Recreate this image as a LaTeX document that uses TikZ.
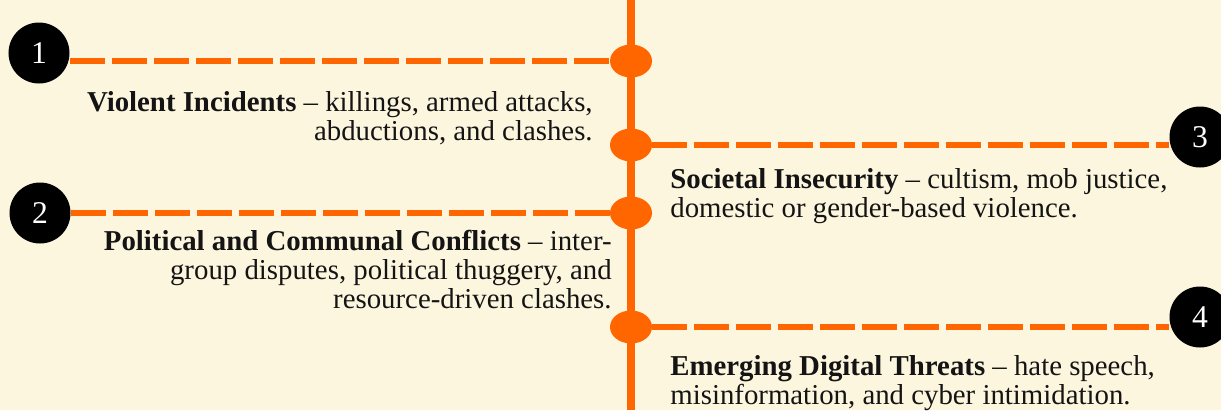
\documentclass[tikz,border=0pt]{standalone}
\usepackage{fontspec}
\setmainfont{Liberation Serif}
\usetikzlibrary{shapes.geometric,backgrounds}

\definecolor{cream}{HTML}{FDF6DF}
\definecolor{tlorange}{HTML}{FF6600}
\definecolor{ink}{HTML}{141414}

\tikzset{
  numdot/.style={circle, fill=black, text=white, minimum size=12.2mm,
    inner sep=0pt, font=\fontsize{18}{18}\selectfont},
  hub/.style={ellipse, fill=tlorange, minimum width=8.4mm,
    minimum height=6.6mm, inner sep=0pt},
  spine/.style={tlorange, line width=1.6mm},
  dashline/.style={tlorange, line width=3.4pt, dash pattern=on 7mm off 1.4mm},
  desc/.style={text=ink, inner sep=0pt, font=\fontsize{16.4}{16.5}\selectfont}
}

\begin{document}
\begin{tikzpicture}[x=0.2mm, y=-0.2mm]
  \useasboundingbox (0,0) rectangle (1221,410);
  \coordinate (top) at (631,0);
  \coordinate (bot) at (631,410);

  % hubs on the spine
  \node[hub] (d1) at (631,61) {};
  \node[hub] (d2) at (631,213) {};
  \node[hub] (d3) at (631,145) {};
  \node[hub] (d4) at (631,327) {};

  % numbered markers
  \node[numdot] (c1) at (39,53) {1};
  \node[numdot] (c2) at (40,213) {2};
  \node[numdot] (c3) at (1200,137) {3};
  \node[numdot] (c4) at (1200,317) {4};

  \begin{pgfonlayer}{background}
    \fill[cream] (0,0) rectangle (1221,410);
    \draw[spine] (top) -- (bot);
    % dashed branches
    \draw[dashline] (c1.east |- d1) -- (d1.west);
    \draw[dashline] (c2.east |- d2) -- (d2.west);
    \draw[dashline] (d3.east) -- (c3.west |- d3);
    \draw[dashline] (d4.east) -- (c4.west |- d4);
  \end{pgfonlayer}

  % left side (base = last line)
  \node[desc, align=right, anchor=base east] (t1) at (593,140)
    {\textbf{Violent Incidents} -- killings, armed attacks,\\
     abductions, and clashes.};
  \node[desc, align=right, anchor=base east] (t2) at (612,308)
    {\textbf{Political and Communal Conflicts} -- inter-\\
     group disputes, political thuggery, and\\
     resource-driven clashes.};
  % right side
  \node[desc, align=left, anchor=base west] (t3) at (670,217)
    {\textbf{Societal Insecurity} -- cultism, mob justice,\\
     domestic or gender-based violence.};
  \node[desc, align=left, anchor=base west] (t4) at (670,404)
    {\textbf{Emerging Digital Threats} -- hate speech,\\
     misinformation, and cyber intimidation.};
\end{tikzpicture}
\end{document}
